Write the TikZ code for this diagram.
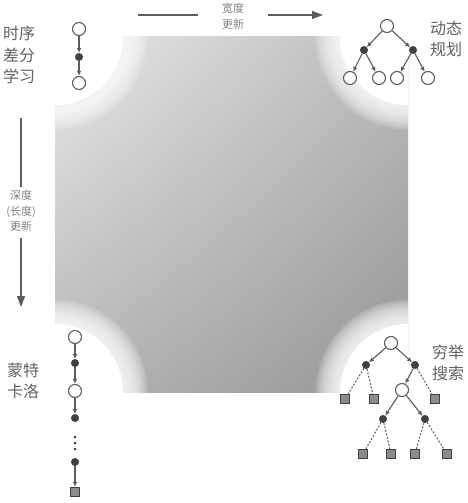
\documentclass[tikz,border=0pt]{standalone}
\usepackage{fontspec}
\newfontfamily\cjk{Noto Sans CJK SC}
\usetikzlibrary{arrows.meta,shadings}
\definecolor{lnc}{gray}{0.36}
\definecolor{dotc}{gray}{0.25}
\definecolor{sqc}{gray}{0.55}
\definecolor{txtc}{gray}{0.38}
\definecolor{smtc}{gray}{0.5}
\definecolor{gUL}{gray}{0.92}
\definecolor{gUR}{gray}{0.73}
\definecolor{gLL}{gray}{0.71}
\definecolor{gLR}{gray}{0.58}
\begin{document}
\begin{tikzpicture}[x=1pt,y=-1pt,
  onode/.style={circle,draw=lnc,fill=white,line width=1.1pt,minimum size=13pt,inner sep=0pt},
  fnode/.style={circle,draw=dotc,fill=dotc,minimum size=7.5pt,inner sep=0pt},
  tnode/.style={circle,fill=dotc,minimum size=3pt,inner sep=0pt},
  snode/.style={rectangle,draw=dotc,fill=sqc,line width=0.8pt,minimum size=9.5pt,inner sep=0pt},
  sarr/.style={draw=lnc,line width=1.1pt,-{Latex[length=5pt,width=4.6pt]}},
  dsh/.style={draw=lnc,line width=1pt,dash pattern=on 2pt off 1.6pt},
  bigline/.style={draw=lnc,line width=1.2pt},
  bigarr/.style={draw=lnc,line width=1.2pt,-{Triangle[length=11pt,width=8pt]}},
  biglab/.style={font=\cjk\fontsize{16}{21.5}\selectfont,text=txtc,align=left,inner sep=0pt},
  smlab/.style={font=\cjk\fontsize{11}{15.5}\selectfont,text=smtc,align=center,inner sep=0pt},
  glowring/.style={fill=white,opacity=0.08}]
\useasboundingbox (0,0) rectangle (468,503);
% gradient square with glowing cut corners
\begin{scope}
\clip (55,37) rectangle (408,392);
\shade[upper left=gUL,upper right=gUR,lower left=gLL,lower right=gLR] (50,32) rectangle (413,397);
\foreach \cx/\cy in {55/37,408/37,55/392,408/392}{
  \foreach \r in {93,92,...,69}
    \fill[glowring] (\cx,\cy) circle (\r);
  \fill[white] (\cx,\cy) circle (68);
}
\end{scope}
% top arrow
\coordinate (ha1) at (138,15);
\coordinate (ha2) at (198,15);
\coordinate (ha3) at (268,15);
\coordinate (ha4) at (323,15);
\draw[bigline] (ha1) -- (ha2);
\draw[bigarr] (ha3) -- (ha4);
\node[smlab] (wlab) at (233,16.5) {宽度\\更新};
% left arrow
\coordinate (va1) at (21,118);
\coordinate (va2) at (21,187);
\coordinate (va3) at (21,238);
\coordinate (va4) at (21,307);
\draw[bigline] (va1) -- (va2);
\draw[bigarr] (va3) -- (va4);
\node[smlab] (dlab) at (21,211) {深度\\(长度)\\更新};
% labels
\node[biglab,anchor=west] (ltd) at (3,55) {时序\\差分\\学习};
\node[biglab,anchor=west] (ldp) at (430,39) {动态\\规划};
\node[biglab,anchor=west] (lmc) at (7,381) {蒙特\\卡洛};
\node[biglab,anchor=west] (les) at (432,363) {穷举\\搜索};
% TD chain
\node[onode] (t1) at (79,29) {};
\node[fnode] (t2) at (79,57) {};
\node[onode] (t3) at (79,83) {};
\draw[sarr] (t1) -- (t2);
\draw[sarr] (t2) -- (t3);
% DP tree
\node[onode] (d0) at (387,26) {};
\node[fnode] (d1) at (364,50) {};
\node[fnode] (d2) at (413,50) {};
\node[onode] (d3) at (350,78) {};
\node[onode] (d4) at (379,78) {};
\node[onode] (d5) at (397,78) {};
\node[onode] (d6) at (428,78) {};
\draw[sarr] (d0) -- (d1);
\draw[sarr] (d0) -- (d2);
\draw[sarr] (d1) -- (d3);
\draw[sarr] (d1) -- (d4);
\draw[sarr] (d2) -- (d5);
\draw[sarr] (d2) -- (d6);
% MC chain
\node[onode] (m1) at (75,337) {};
\node[fnode] (m2) at (75,363) {};
\node[onode] (m3) at (75,391) {};
\node[fnode] (m4) at (75,418) {};
\node[tnode] (e1d) at (75,437) {};
\node[tnode] (e2d) at (75,443) {};
\node[tnode] (e3d) at (75,449) {};
\node[fnode] (m5) at (75,462) {};
\node[snode] (m6) at (75,492) {};
\draw[sarr] (m1) -- (m2);
\draw[sarr] (m2) -- (m3);
\draw[sarr] (m3) -- (m4);
\draw[sarr] (m5) -- (m6);
% exhaustive search tree
\node[onode] (x0) at (391,343) {};
\node[fnode] (x1) at (366,365) {};
\node[fnode] (x2) at (415,365) {};
\node[snode] (s1) at (345,399) {};
\node[snode] (s2) at (374,399) {};
\node[snode] (s3) at (435,399) {};
\node[onode] (x3) at (402,390) {};
\node[fnode] (x4) at (383,419) {};
\node[fnode] (x5) at (425,419) {};
\node[snode] (s4) at (363,454) {};
\node[snode] (s5) at (391,454) {};
\node[snode] (s6) at (415,454) {};
\node[snode] (s7) at (447,454) {};
\draw[sarr] (x0) -- (x1);
\draw[sarr] (x0) -- (x2);
\draw[sarr] (x2) -- (x3);
\draw[sarr] (x3) -- (x4);
\draw[sarr] (x3) -- (x5);
\draw[dsh] (x1) -- (s1);
\draw[dsh] (x1) -- (s2);
\draw[dsh] (x2) -- (s3);
\draw[dsh] (x4) -- (s4);
\draw[dsh] (x4) -- (s5);
\draw[dsh] (x5) -- (s6);
\draw[dsh] (x5) -- (s7);
\end{tikzpicture}
\end{document}
